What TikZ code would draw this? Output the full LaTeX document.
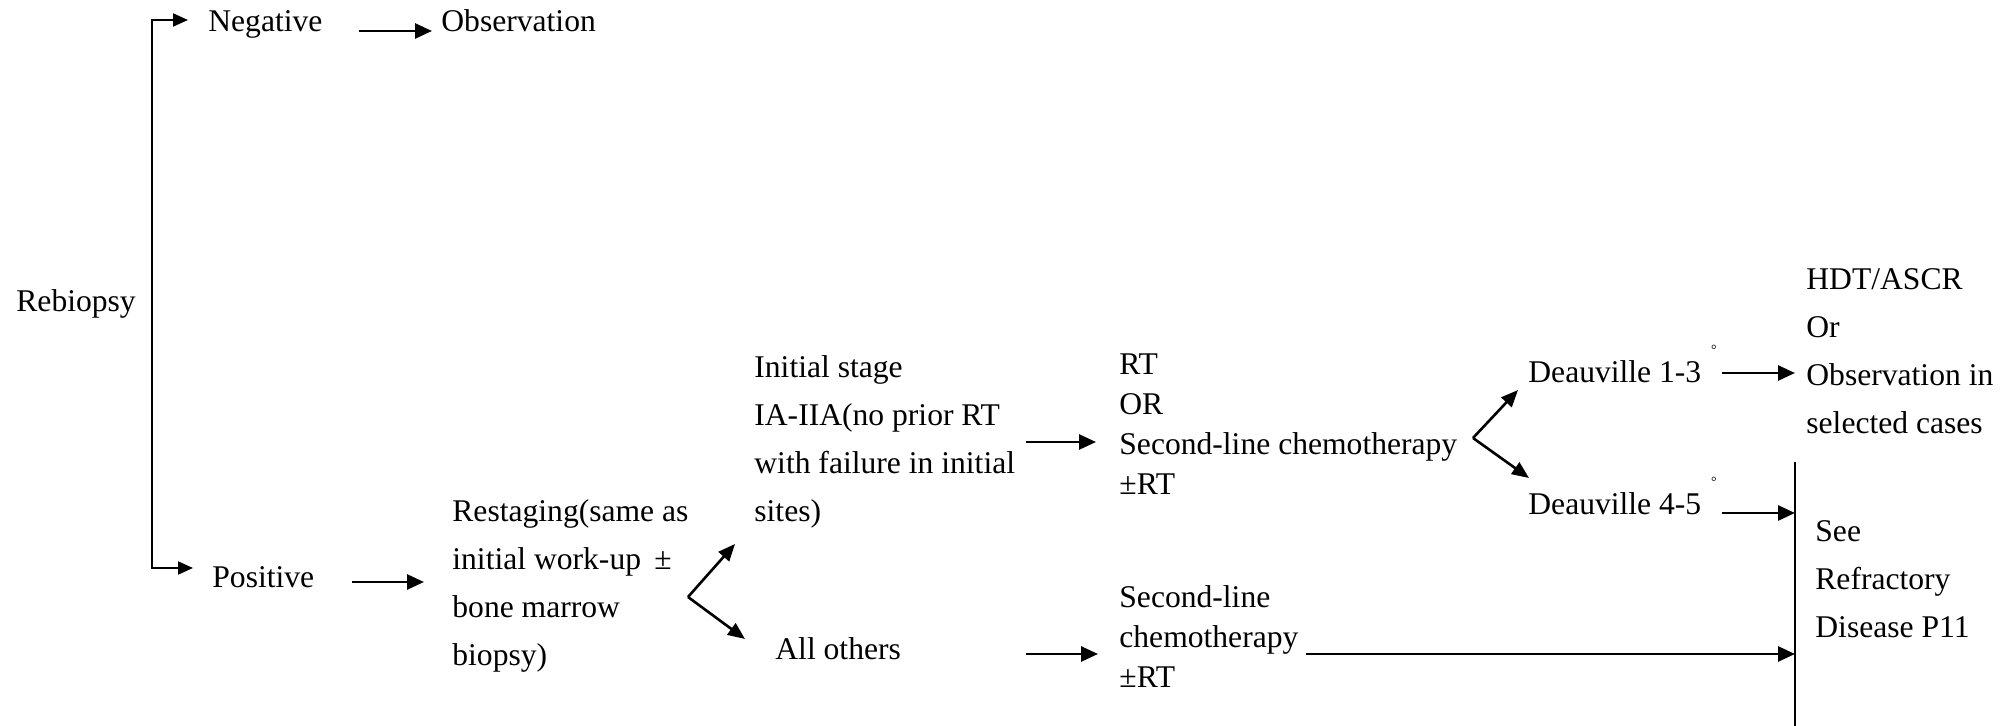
\documentclass[tikz,border=0pt]{standalone}
\usepackage{fontspec}
\setmainfont{Liberation Serif}
\usetikzlibrary{arrows.meta}
\newcommand\rowsof[1]{\vtop{#1}}
\begin{document}
\begin{tikzpicture}[x=0.5pt,y=-0.5pt,
  txt/.style={anchor=base west, inner sep=0pt, font=\fontsize{15.8}{24}\selectfont},
  txtn/.style={anchor=base west, inner sep=0pt, font=\fontsize{15.8}{20}\selectfont},
  arr/.style={line width=1.35pt, -{Triangle[length=8.5pt,width=7.5pt]}},
  fork/.style={line width=1.3pt, -{Triangle[length=8.5pt,width=7pt]}},
  brk/.style={line width=1pt, {Triangle[length=7.5pt,width=6.5pt]}-{Triangle[length=7.5pt,width=6.5pt]}},
  plain/.style={line width=0.8pt},
  deg/.style={anchor=center, inner sep=0pt, font=\fontsize{7}{7}\selectfont}]
\useasboundingbox (0,0) rectangle (2010,726);

% texts
\node[txt] (reb) at (16,312) {Rebiopsy};
\node[txt] (neg) at (208,32) {Negative};
\node[txt] (obs) at (441,32) {Observation};
\node[txt] (pos) at (212,588) {Positive};
\node[txt] (rest) at (452,522) {\rowsof{\hbox{Restaging(same as}\hbox{initial work-up \,±}\hbox{bone marrow}\hbox{biopsy)}}};
\node[txt] (init) at (754,378) {\rowsof{\hbox{Initial stage}\hbox{IA-IIA(no prior RT}\hbox{with failure in initial}\hbox{sites)}}};
\node[txt] (oth) at (775,660) {All others};
\node[txtn] (rt) at (1119,375) {\rowsof{\hbox{RT}\hbox{OR}\hbox{Second-line chemotherapy}\hbox{±RT}}};
\node[txtn] (sl) at (1119,608) {\rowsof{\hbox{Second-line}\hbox{chemotherapy}\hbox{±RT}}};
\node[txt] (d13) at (1528,383) {Deauville 1-3};
\node[txt] (d45) at (1528,515) {Deauville 4-5};
\node[deg] (dg1) at (1714,350) {°};
\node[deg] (dg2) at (1714,482) {°};
\node[txt] (hdt) at (1806,290) {\rowsof{\hbox{HDT/ASCR}\hbox{Or}\hbox{Observation in}\hbox{selected cases}}};
\node[txt] (see) at (1815,542) {\rowsof{\hbox{See}\hbox{Refractory}\hbox{Disease P11}}};

% coordinates
\coordinate (ntip) at (188,20);
\coordinate (bt) at (152,20);
\coordinate (bb) at (152,568);
\coordinate (ptip) at (193,568);
\coordinate (a1s) at (359,31);  \coordinate (a1e) at (432,31);
\coordinate (a2s) at (352,582); \coordinate (a2e) at (424,582);
\coordinate (f1) at (688,597);  \coordinate (f1u) at (735,544); \coordinate (f1d) at (745,639);
\coordinate (a3s) at (1026,442); \coordinate (a3e) at (1096,442);
\coordinate (a4s) at (1026,654); \coordinate (a4e) at (1098,654);
\coordinate (f2) at (1473,438); \coordinate (f2u) at (1518,390); \coordinate (f2d) at (1529,478);
\coordinate (a5s) at (1722,373); \coordinate (a5e) at (1795,373);
\coordinate (a6s) at (1722,513); \coordinate (a6e) at (1795,513);
\coordinate (a7s) at (1306,654); \coordinate (a7e) at (1795,654);
\coordinate (vt) at (1795,462); \coordinate (vb) at (1795,726);

% connectors
\draw[brk] (ntip) -- (bt) -- (bb) -- (ptip);
\draw[arr] (a1s) -- (a1e);
\draw[arr] (a2s) -- (a2e);
\draw[fork] (f1) -- (f1u);
\draw[fork] (f1) -- (f1d);
\draw[arr] (a3s) -- (a3e);
\draw[arr] (a4s) -- (a4e);
\draw[fork] (f2) -- (f2u);
\draw[fork] (f2) -- (f2d);
\draw[arr] (a5s) -- (a5e);
\draw[arr] (a6s) -- (a6e);
\draw[arr] (a7s) -- (a7e);
\draw[plain] (vt) -- (vb);
\end{tikzpicture}
\end{document}
